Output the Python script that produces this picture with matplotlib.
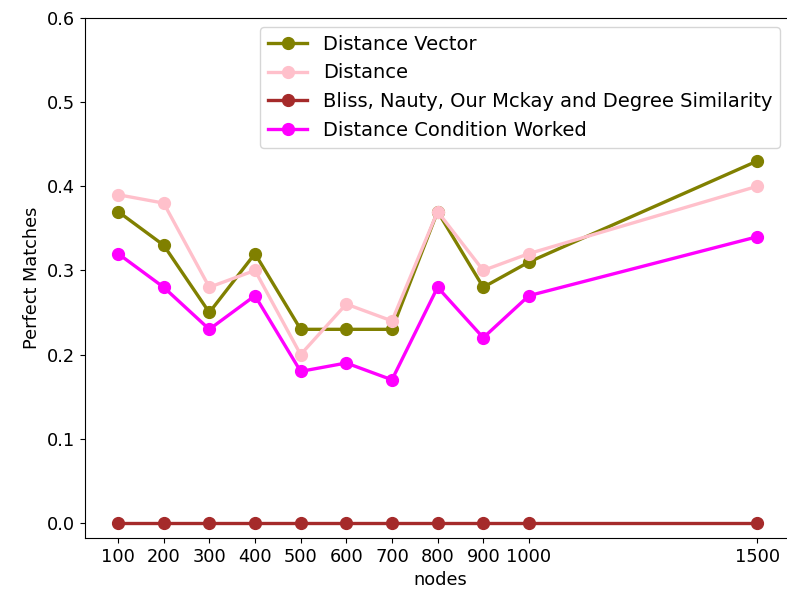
import matplotlib
matplotlib.use("Agg")
import matplotlib.pyplot as plt

nodes = [100, 200, 300, 400, 500, 600, 700, 800, 900, 1000, 1500]
distance_vector = [0.37, 0.33, 0.25, 0.32, 0.23, 0.23, 0.23, 0.37, 0.28, 0.31, 0.43]
distance = [0.39, 0.38, 0.28, 0.30, 0.20, 0.26, 0.24, 0.37, 0.30, 0.32, 0.40]
bliss_nauty = [0, 0, 0, 0, 0, 0, 0, 0, 0, 0, 0]
cond_worked = [0.32, 0.28, 0.23, 0.27, 0.18, 0.19, 0.17, 0.28, 0.22, 0.27, 0.34]

fs = 12.8
plt.rcParams['font.size'] = fs

fig = plt.figure(figsize=(7.87, 6.01), dpi=100)
W, H = 787, 601
# right edge of the axes sits just outside the picture, like the cropped original
ax = fig.add_axes([85 / W, (H - 538) / H, (796 - 85) / W, (538 - 18) / H])
ax.spines['right'].set_visible(False)

style = dict(linewidth=2.4, marker='o', markersize=8.5)
ax.plot(nodes, distance_vector, color='#808000', label='Distance Vector', **style)
ax.plot(nodes, distance, color='pink', label='Distance', **style)
ax.plot(nodes, bliss_nauty, color='#a52a2a', label='Bliss, Nauty, Our Mckay and Degree Similarity', **style)
ax.plot(nodes, cond_worked, color='magenta', label='Distance Condition Worked', **style)

ax.set_ylim(-0.018, 0.6)
ax.set_xlim(27.7, 1585)
ax.set_xticks(nodes)
ax.set_xlabel('nodes')
ax.set_ylabel('Perfect Matches')
leg = ax.legend(loc='upper right', fontsize=14, bbox_to_anchor=((780 - 85) / (796 - 85), (538 - 27) / (538 - 18)),
                borderaxespad=0)

fig.savefig('out.png', dpi=100)
